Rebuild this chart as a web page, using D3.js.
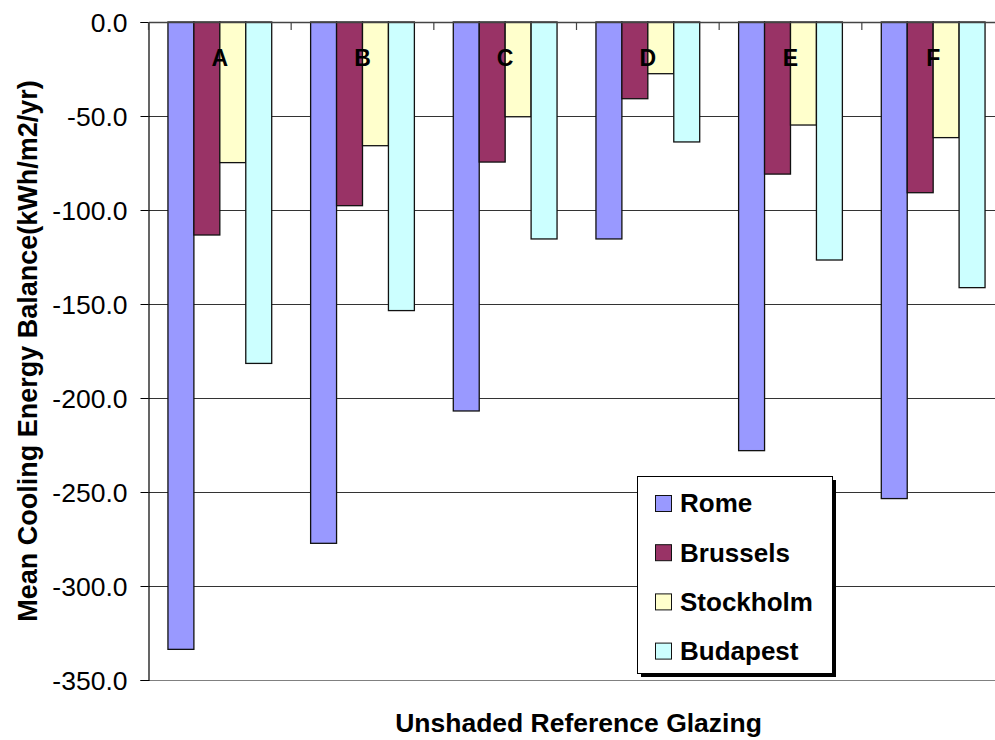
<!DOCTYPE html>
<html>
<head>
<meta charset="utf-8">
<script src="https://cdn.jsdelivr.net/npm/d3@7"></script>
<style>
  html, body { margin: 0; padding: 0; background: #fff; }
  svg { display: block; font-family: "Liberation Sans", Arial, sans-serif; }
</style>
</head>
<body>
<svg id="chart" width="995" height="740"></svg>
<script>
const categories = ["A", "B", "C", "D", "E", "F"];
const seriesNames = ["Rome", "Brussels", "Stockholm", "Budapest"];
const rome      = [-333.7, -277.3, -206.9, -115.4, -228.0, -253.5];
const brussels  = [-113.3,  -97.7,  -74.5,  -40.8,  -80.9,  -90.8];
const stockholm = [ -74.8,  -65.8,  -50.4,  -27.5,  -54.8,  -61.5];
const budapest  = [-181.6, -153.5, -115.4,  -63.8, -126.6, -141.3];
const yTicks = [0, -50, -100, -150, -200, -250, -300, -350];
const colors = ["#9999FF", "#993366", "#FFFFCC", "#CCFFFF"];
const yTitle = "Mean Cooling Energy Balance(kWh/m2/yr)";
const xTitle = "Unshaded Reference Glazing";

const seriesValues = [rome, brussels, stockholm, budapest];

const svg = d3.select("#chart");
const pLeft = 148.5, pRight = 1004.5, pTop = 22, pBottom = 680;

const x = d3.scaleBand().domain(categories).range([pLeft, pRight]).padding(0);
const xi = d3.scaleBand().domain(seriesNames).range([0, x.bandwidth()])
  .paddingInner(0).paddingOuter(0.75);
const y = d3.scaleLinear().domain([0, -350]).range([pTop, pBottom]);

// gridlines
svg.append("g").selectAll("line").data(yTicks.filter(d => d !== 0)).join("line")
  .attr("x1", pLeft).attr("x2", pRight)
  .attr("y1", d => Math.round(y(d)) + 0.5).attr("y2", d => Math.round(y(d)) + 0.5)
  .attr("stroke", d => d === -350 ? "#808080" : "#333").attr("stroke-width", 1);

// right border of plot area
svg.append("line").attr("x1", pRight).attr("x2", pRight).attr("y1", pTop).attr("y2", pBottom)
  .attr("stroke", "#808080");

// bars
const rows = [];
seriesNames.forEach((s, si) => {
  categories.forEach((c, ci) => rows.push({ s, si, c, v: seriesValues[si][ci] }));
});
svg.append("g").selectAll("rect").data(rows).join("rect")
  .attr("x", d => x(d.c) + xi(d.s))
  .attr("y", d => y(0))
  .attr("width", xi.bandwidth())
  .attr("height", d => y(d.v) - y(0))
  .attr("fill", d => colors[d.si])
  .attr("stroke", "#111").attr("stroke-width", 1.3);

// y axis
const yAxis = d3.axisLeft(y).tickValues(yTicks).tickFormat(d => d.toFixed(1))
  .tickSize(8).tickPadding(13);
const gy = svg.append("g").attr("transform", `translate(${pLeft},0)`).call(yAxis);
gy.select(".domain").attr("stroke", "#000").attr("stroke-width", 1.2);
gy.selectAll(".tick line").attr("stroke", "#000");
gy.selectAll(".tick text").attr("font-size", 26.5).attr("fill", "#000")
  .attr("font-family", "'Liberation Sans', Arial, sans-serif").attr("dy", "0.36em");

// top (category) axis at y = 0
const xAxis = d3.axisBottom(x).tickSize(0).tickFormat("");
const gx = svg.append("g").attr("transform", `translate(0,${y(0)})`).call(xAxis);
gx.select(".domain").attr("stroke", "#444").attr("stroke-width", 1.5);
const bounds = categories.map(c => x(c)).concat([pRight]);
svg.append("g").selectAll("line").data(bounds).join("line")
  .attr("x1", d => d).attr("x2", d => d)
  .attr("y1", y(0)).attr("y2", y(0) + 8)
  .attr("stroke", "#444").attr("stroke-width", 1.2);

// category labels
svg.append("g").selectAll("text").data(categories).join("text")
  .attr("x", d => x(d) + x.bandwidth() / 2)
  .attr("y", 66)
  .attr("text-anchor", "middle")
  .attr("font-size", 23).attr("font-weight", "bold")
  .text(d => d);

// axis titles
svg.append("text")
  .attr("transform", `translate(37,${(pTop + pBottom) / 2}) rotate(-90)`)
  .attr("text-anchor", "middle")
  .attr("font-size", 27).attr("font-weight", "bold")
  .text(yTitle);

svg.append("text")
  .attr("x", (pLeft + pRight) / 2 + 2).attr("y", 732)
  .attr("text-anchor", "middle")
  .attr("font-size", 26.5).attr("font-weight", "bold")
  .text(xTitle);

// legend
const lg = svg.append("g").attr("transform", "translate(637,476)");
lg.append("rect").attr("x", 4).attr("y", 4).attr("width", 195).attr("height", 197).attr("fill", "#000");
lg.append("rect").attr("x", 0.5).attr("y", 0.5).attr("width", 195).attr("height", 197)
  .attr("fill", "#fff").attr("stroke", "#000").attr("stroke-width", 1);
const items = lg.selectAll("g.item").data(seriesNames).join("g")
  .attr("class", "item")
  .attr("transform", (d, i) => `translate(0,${27 + i * 49.2})`);
items.append("rect").attr("x", 18.5).attr("y", -7.5).attr("width", 16).attr("height", 16)
  .attr("fill", (d, i) => colors[i]).attr("stroke", "#111").attr("stroke-width", 1);
items.append("text").attr("x", 43).attr("y", 0).attr("dy", "0.36em")
  .attr("font-size", 26).attr("font-weight", "bold").text(d => d);
</script>
</body>
</html>
